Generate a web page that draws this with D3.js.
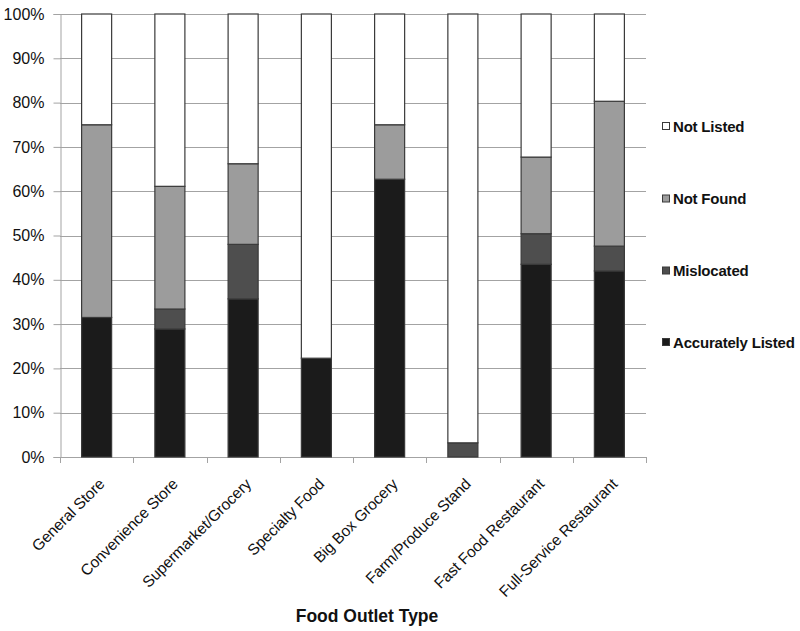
<!DOCTYPE html>
<html>
<head>
<meta charset="utf-8">
<script src="https://cdn.jsdelivr.net/npm/d3@7"></script>
<style>
  html, body { margin: 0; padding: 0; background: #fff; }
  svg { display: block; }
  text { font-family: "Liberation Sans", Arial, sans-serif; fill: #111; }
</style>
</head>
<body>
<svg id="chart" width="800" height="631"></svg>
<script>
const categories = ["General Store", "Convenience Store", "Supermarket/Grocery", "Specialty Food",
  "Big Box Grocery", "Farm/Produce Stand", "Fast Food Restaurant", "Full-Service Restaurant"];
const seriesNames = ["Accurately Listed", "Mislocated", "Not Found", "Not Listed"];
const accuratelyListed = [31.5, 28.9, 35.7, 22.3, 62.7, 0, 43.5, 42.0];
const mislocated       = [0, 4.5, 12.3, 0, 0, 3.2, 6.9, 5.6];
const notFound         = [43.5, 27.7, 18.2, 0, 12.3, 0, 17.3, 32.7];
const notListed        = [25.0, 38.9, 33.8, 77.7, 25.0, 96.8, 32.3, 19.7];
const yTicks = [0, 10, 20, 30, 40, 50, 60, 70, 80, 90, 100];
const xTitle = "Food Outlet Type";

const colors = {"Accurately Listed": "#1b1b1b", "Mislocated": "#4e4e4e", "Not Found": "#9c9c9c", "Not Listed": "#ffffff"};
const seriesValues = [accuratelyListed, mislocated, notFound, notListed];

const table = categories.map((c, i) => {
  const row = {category: c};
  seriesNames.forEach((s, k) => row[s] = seriesValues[k][i]);
  return row;
});

const svg = d3.select("#chart");
const mLeft = 60, mRight = 646, mTop = 14, mBottom = 457;

const x = d3.scaleBand().domain(categories).range([mLeft, mRight]).paddingInner(0.59).paddingOuter(0.295);
const y = d3.scaleLinear().domain([0, 100]).range([mBottom, mTop]);

// gridlines
svg.append("g").selectAll("line").data(yTicks.filter(d => d > 0)).join("line")
  .attr("x1", mLeft).attr("x2", mRight)
  .attr("y1", d => Math.round(y(d)) + 0.5).attr("y2", d => Math.round(y(d)) + 0.5)
  .attr("stroke", "#a3a3a3").attr("stroke-width", 1);

// y axis
const yAxis = svg.append("g").attr("transform", `translate(${mLeft + 0.5},0)`)
  .call(d3.axisLeft(y).tickValues(yTicks).tickFormat(d => d + "%").tickSize(7).tickPadding(9));
yAxis.select(".domain").attr("stroke", "#a3a3a3");
yAxis.selectAll(".tick line").attr("stroke", "#a3a3a3");
yAxis.selectAll("text").style("font-size", "16px").style("font-family", "'Liberation Sans', Arial, sans-serif").attr("fill", "#111");

// x axis: line with ticks at band boundaries
const step = x.step();
const boundaries = d3.range(categories.length + 1).map(i => mLeft + i * step);
svg.append("line").attr("x1", mLeft).attr("x2", mRight)
  .attr("y1", mBottom + 0.5).attr("y2", mBottom + 0.5).attr("stroke", "#a3a3a3");
svg.append("g").selectAll("line").data(boundaries).join("line")
  .attr("x1", d => Math.round(d) + 0.5).attr("x2", d => Math.round(d) + 0.5)
  .attr("y1", mBottom).attr("y2", mBottom + 6).attr("stroke", "#a3a3a3");

// stacked bars
const stack = d3.stack().keys(seriesNames);
const stacked = stack(table);
svg.append("g").selectAll("g").data(stacked).join("g")
  .attr("fill", d => colors[d.key])
  .selectAll("rect").data(d => d.filter(s => s[1] - s[0] > 0)).join("rect")
  .attr("x", d => x(d.data.category))
  .attr("width", x.bandwidth())
  .attr("y", d => y(d[1]))
  .attr("height", d => y(d[0]) - y(d[1]))
  .attr("stroke", "#3a3a3a").attr("stroke-width", 1.2);

// x labels
svg.append("g").selectAll("text").data(categories).join("text")
  .attr("transform", d => `translate(${x(d) + x.bandwidth() / 2 + 9},${485}) rotate(-45)`)
  .attr("text-anchor", "end")
  .style("font-size", "15.5px")
  .style("letter-spacing", "-0.1px")
  .text(d => d);

// x title
svg.append("text").attr("x", 367).attr("y", 622).attr("text-anchor", "middle")
  .style("font-size", "17.5px").style("font-weight", "bold").text(xTitle);

// legend
const legendOrder = seriesNames.slice().reverse();
const legendY = [126, 198.5, 270.5, 342];
const lg = svg.append("g").selectAll("g").data(legendOrder).join("g")
  .attr("transform", (d, i) => `translate(662,${legendY[i]})`);
lg.append("rect").attr("x", 0.5).attr("y", -3.5).attr("width", 7).attr("height", 7)
  .attr("fill", d => colors[d]).attr("stroke", "#3a3a3a").attr("stroke-width", 1);
lg.append("text").attr("x", 11).attr("y", 5.5)
  .style("font-size", "15px").style("font-weight", "bold").style("letter-spacing", "-0.2px").text(d => d);
</script>
</body>
</html>
